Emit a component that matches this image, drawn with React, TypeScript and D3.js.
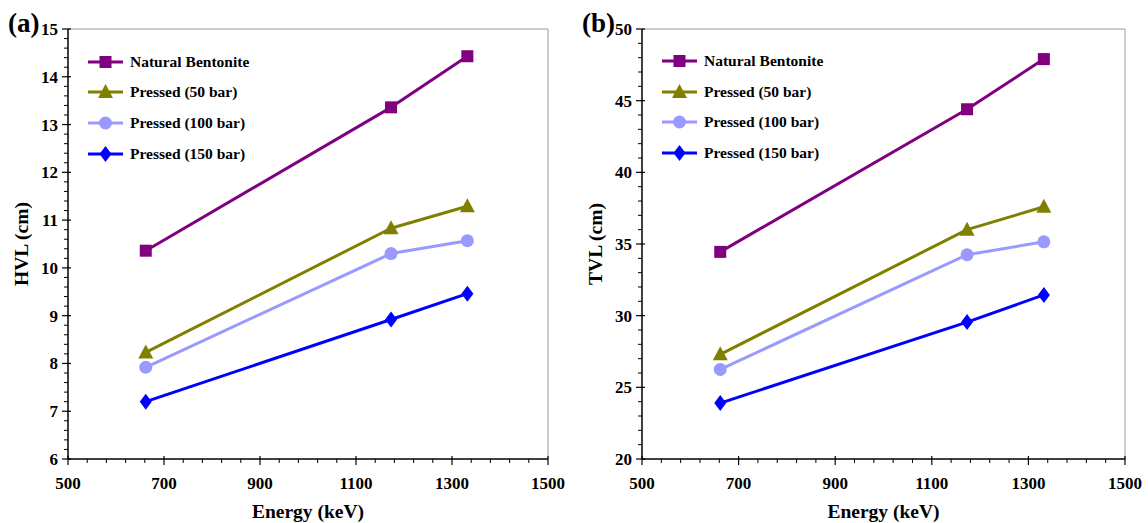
import React from "react";
import * as d3 from "d3";

const energies = [662, 1173, 1332];

const seriesNames = ["Natural Bentonite", "Pressed (50 bar)", "Pressed (100 bar)", "Pressed (150 bar)"];
const seriesColors = ["#800080", "#808000", "#9999FF", "#0000FF"];
const seriesSymbols = ["square", "triangle", "circle", "diamond"];

const hvlNatural = [10.36, 13.36, 14.43];
const hvl50 = [8.23, 10.83, 11.29];
const hvl100 = [7.92, 10.3, 10.57];
const hvl150 = [7.2, 8.92, 9.46];

const tvlNatural = [34.45, 44.4, 47.9];
const tvl50 = [27.3, 36.0, 37.6];
const tvl100 = [26.25, 34.25, 35.15];
const tvl150 = [23.9, 29.55, 31.45];

const xTicks = [500, 700, 900, 1100, 1300, 1500];
const hvlTicks = [6, 7, 8, 9, 10, 11, 12, 13, 14, 15];
const tvlTicks = [20, 25, 30, 35, 40, 45, 50];

const FONT = "'Liberation Serif', 'Times New Roman', serif";

function Marker({ type, x, y, color }: { type: string; x: number; y: number; color: string }) {
  if (type === "square") return <rect x={x - 6} y={y - 6} width={12} height={12} fill={color} />;
  if (type === "triangle")
    return <path d={`M${x},${y - 8} L${x + 7.5},${y + 6} L${x - 7.5},${y + 6} Z`} fill={color} />;
  if (type === "circle") return <circle cx={x} cy={y} r={6.5} fill={color} />;
  return <path d={`M${x},${y - 8} L${x + 6},${y} L${x},${y + 8} L${x - 6},${y} Z`} fill={color} />;
}

type PanelProps = {
  left: number;
  right: number;
  top: number;
  bottom: number;
  yDomain: [number, number];
  yTicks: number[];
  yMinorStep: number;
  series: number[][];
  label: string;
  yTitle: string;
  legendX: number;
  legendYs: number[];
};

function Panel(p: PanelProps) {
  const x = d3.scaleLinear().domain([500, 1500]).range([p.left, p.right]);
  const y = d3.scaleLinear().domain(p.yDomain).range([p.bottom, p.top]);
  const xMinor = d3.range(500, 1500.01, 40).filter((v) => !xTicks.includes(v));
  const yMinor = d3
    .range(p.yDomain[0], p.yDomain[1] + 0.001, p.yMinorStep)
    .filter((v) => !p.yTicks.some((t) => Math.abs(t - v) < 1e-6));
  const line = d3
    .line<number>()
    .x((_, i) => x(energies[i]))
    .y((d) => y(d))
    .curve(d3.curveLinear);
  return (
    <g>
      {/* frame */}
      <line x1={p.left} x2={p.right} y1={p.top} y2={p.top} stroke="#999" strokeWidth={1} />
      <line x1={p.right} x2={p.right} y1={p.top} y2={p.bottom} stroke="#999" strokeWidth={1} />
      {/* series */}
      {p.series.map((s, i) => (
        <g key={i}>
          <path d={line(s) || ""} fill="none" stroke={seriesColors[i]} strokeWidth={3} strokeLinejoin="round" />
          {s.map((v, j) => (
            <Marker key={j} type={seriesSymbols[i]} x={x(energies[j])} y={y(v)} color={seriesColors[i]} />
          ))}
        </g>
      ))}
      {/* axes */}
      <line x1={p.left} x2={p.left} y1={p.top} y2={p.bottom} stroke="#000" strokeWidth={1.5} />
      <line x1={p.left} x2={p.right} y1={p.bottom} y2={p.bottom} stroke="#000" strokeWidth={1.5} />
      {xTicks.map((t) => (
        <g key={t}>
          <line x1={x(t)} x2={x(t)} y1={p.bottom - 3} y2={p.bottom + 6} stroke="#000" strokeWidth={1.2} />
          <text
            x={x(t)}
            y={p.bottom + 30}
            textAnchor="middle"
            fontFamily={FONT}
            fontWeight="bold"
            fontSize={17}
          >
            {t}
          </text>
        </g>
      ))}
      {xMinor.map((t) => (
        <line key={t} x1={x(t)} x2={x(t)} y1={p.bottom} y2={p.bottom + 4} stroke="#000" strokeWidth={1} />
      ))}
      {p.yTicks.map((t) => (
        <g key={t}>
          <line x1={p.left - 6} x2={p.left + 3} y1={y(t)} y2={y(t)} stroke="#000" strokeWidth={1.2} />
          <text
            x={p.left - 10}
            y={y(t) + 6}
            textAnchor="end"
            fontFamily={FONT}
            fontWeight="bold"
            fontSize={17}
          >
            {t}
          </text>
        </g>
      ))}
      {yMinor.map((t) => (
        <line key={t} x1={p.left - 4} x2={p.left} y1={y(t)} y2={y(t)} stroke="#000" strokeWidth={1} />
      ))}
      {/* titles */}
      <text
        x={(p.left + p.right) / 2}
        y={518}
        textAnchor="middle"
        fontFamily={FONT}
        fontWeight="bold"
        fontSize={19.5}
      >
        Energy (keV)
      </text>
      <text
        transform={`translate(${p.left - 40},${(p.top + p.bottom) / 2}) rotate(-90)`}
        textAnchor="middle"
        fontFamily={FONT}
        fontWeight="bold"
        fontSize={19.5}
      >
        {p.yTitle}
      </text>
      <text x={p.left - 60} y={32} fontFamily={FONT} fontWeight="bold" fontSize={27}>
        {p.label}
      </text>
      {/* legend */}
      {seriesNames.map((n, i) => (
        <g key={n}>
          <line
            x1={p.legendX}
            x2={p.legendX + 35}
            y1={p.legendYs[i]}
            y2={p.legendYs[i]}
            stroke={seriesColors[i]}
            strokeWidth={3}
          />
          <Marker type={seriesSymbols[i]} x={p.legendX + 17.5} y={p.legendYs[i]} color={seriesColors[i]} />
          <text
            x={p.legendX + 42}
            y={p.legendYs[i] + 5}
            fontFamily={FONT}
            fontWeight="bold"
            fontSize={15.5}
          >
            {n}
          </text>
        </g>
      ))}
    </g>
  );
}

export default function App() {
  return (
    <svg
      width={1148}
      height={523}
      style={{ position: "absolute", left: 0, top: 0, background: "#fff" }}
    >
      <rect width={1148} height={523} fill="#fff" />
      <Panel
        left={68}
        right={548}
        top={29}
        bottom={459}
        yDomain={[6, 15]}
        yTicks={hvlTicks}
        yMinorStep={0.2}
        series={[hvlNatural, hvl50, hvl100, hvl150]}
        label="(a)"
        yTitle="HVL (cm)"
        legendX={88}
        legendYs={[62, 92, 123, 154]}
      />
      <Panel
        left={642}
        right={1125}
        top={29}
        bottom={459}
        yDomain={[20, 50]}
        yTicks={tvlTicks}
        yMinorStep={1}
        series={[tvlNatural, tvl50, tvl100, tvl150]}
        label="(b)"
        yTitle="TVL (cm)"
        legendX={662}
        legendYs={[61, 92, 122, 153]}
      />
    </svg>
  );
}
